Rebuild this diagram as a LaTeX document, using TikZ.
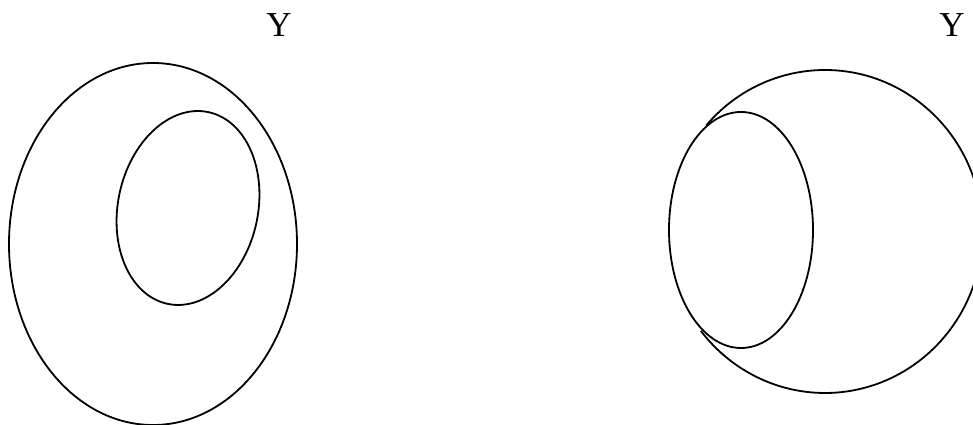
\documentclass[tikz,border=0pt]{standalone}
\usepackage{fontspec}
\setmainfont{Liberation Serif}
\begin{document}
\begin{tikzpicture}[x=1pt,y=1pt,line width=1.8pt]
			\tikzstyle{every node}+=[inner sep=0pt]
			\useasboundingbox (0,0) rectangle (973,425);
			\draw [black] (153,181) ellipse (144 and 181);
			\draw [black, rotate around={-12:(188,217)}] (188,217) ellipse (70 and 98);
			\draw (279,388) node (yleft) [anchor=base] {\fontsize{35}{40}\selectfont Y};
			\draw [black] (825,193.5) ++(139:157.5 and 161.5) arc (139:-142:157.5 and 161.5);
			\draw [black] (741,195) ellipse (72 and 118);
			\draw (952,388) node (yright) [anchor=base] {\fontsize{35}{40}\selectfont Y};
		\end{tikzpicture}
\end{document}
